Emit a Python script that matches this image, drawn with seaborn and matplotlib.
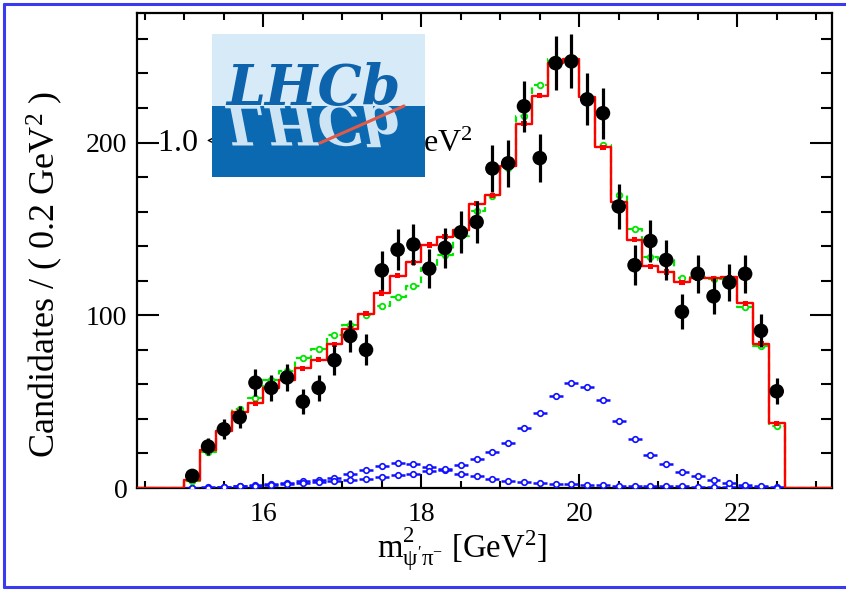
import matplotlib
matplotlib.use("Agg")
import numpy as np
import pandas as pd
import matplotlib.pyplot as plt
import seaborn as sns
from matplotlib.ticker import MultipleLocator, FixedLocator
from matplotlib.patches import Rectangle, PathPatch
from matplotlib.lines import Line2D
from matplotlib.textpath import TextPath
from matplotlib.font_manager import FontProperties
from matplotlib.transforms import Affine2D

# ---------------- data ----------------
bin_centers = [15.1, 15.3, 15.5, 15.7, 15.9, 16.1, 16.3, 16.5, 16.7, 16.9,
               17.1, 17.3, 17.5, 17.7, 17.9, 18.1, 18.3, 18.5, 18.7, 18.9,
               19.1, 19.3, 19.5, 19.7, 19.9, 20.1, 20.3, 20.5, 20.7, 20.9,
               21.1, 21.3, 21.5, 21.7, 21.9, 22.1, 22.3, 22.5]
bin_width = 0.2
x_range = [14.4, 23.2]
y_range = [0, 275]

data_counts = [7, 24, 34, 41, 61, 58, 64, 50, 58, 74,
               88, 80, 126, 138, 141, 127, 139, 148, 154, 185,
               188, 221, 191, 246, 247, 225, 217, 163, 129, 143,
               132, 102, 124, 111, 119, 124, 91, 56]
data_errors = [2.6, 4.9, 5.8, 6.4, 7.8, 7.6, 8.0, 7.1, 7.6, 8.6,
               9.4, 8.9, 11.2, 11.7, 11.9, 11.3, 11.8, 12.2, 12.4, 13.6,
               13.7, 14.9, 13.8, 15.7, 15.7, 15.0, 14.7, 12.8, 11.4, 12.0,
               11.5, 10.1, 11.1, 10.5, 10.9, 11.1, 9.5, 7.5]

fit_total = [4.5, 22, 33, 44, 49, 57.8, 62.6, 69.4, 74.2, 83.3,
             92, 101, 112.9, 122.9, 130.6, 140.7, 145.5, 149.6, 164.5, 169.5,
             186.3, 211, 227.2, 246.2, 248.5, 226.5, 197.3, 165.4, 143.8, 128.3,
             125, 119, 121.5, 121.5, 122.1, 107, 83.5, 37.5]

fit_alt = [4, 21, 33, 46, 52, 62.6, 68, 75.5, 80.4, 88.7,
           94.5, 99.9, 105.5, 110.5, 116.7, 127.4, 135, 145.7, 160.5, 169,
           185, 215.3, 233.2, 248.5, 248, 226, 198.3, 169.5, 150, 133.7,
           132, 121.3, 122, 121, 121, 105, 82, 36]

comp_peak20 = [0, 0.2, 0.5, 0.9, 1.4, 2.0, 2.5, 3.0, 3.5, 4.1,
               4.6, 5.2, 6.6, 7.5, 8.2, 9.7, 10.8, 13.5, 16.8, 20.6,
               26.3, 34.6, 43.3, 53.3, 60.7, 58.7, 51, 39, 28.2, 19.1,
               13.9, 9.5, 7.0, 4.6, 3.1, 1.9, 0.9, 0.2]

comp_peak18 = [0.1, 0.3, 0.6, 1.0, 1.5, 2.2, 3.0, 3.9, 4.8, 6.0,
               8.0, 10.4, 12.9, 14.7, 13.8, 12.2, 10.6, 8.0, 6.8, 5.5,
               4.2, 3.4, 2.8, 2.4, 2.2, 1.8, 1.6, 1.4, 1.3, 1.2,
               1.0, 0.9, 0.8, 0.7, 0.6, 0.5, 0.4, 0.3]

x_ticks = [16, 18, 20, 22]
y_ticks = [0, 100, 200]

# ---------------- style ----------------
sns.set_theme(style="ticks")
plt.rcParams['font.family'] = ['Liberation Serif', 'DejaVu Serif']
plt.rcParams['mathtext.fontset'] = 'custom'
plt.rcParams['mathtext.rm'] = 'Liberation Serif'
plt.rcParams['mathtext.it'] = 'Liberation Serif:italic'
plt.rcParams['mathtext.bf'] = 'Liberation Serif:bold'
plt.rcParams['text.color'] = 'black'
plt.rcParams['axes.labelcolor'] = 'black'
plt.rcParams['xtick.color'] = 'black'
plt.rcParams['ytick.color'] = 'black'

W, H = 846, 591
fig = plt.figure(figsize=(W / 100, H / 100), dpi=100)
fig.patch.set_facecolor('white')
L, R, T, B = 137, 832, 13, 488
ax = fig.add_axes([L / W, 1 - B / H, (R - L) / W, (B - T) / H])
ax.set_facecolor('white')

centers = np.array(bin_centers)
edges_x = np.concatenate([[x_range[0]], centers - bin_width / 2,
                          [centers[-1] + bin_width / 2, x_range[1]]])


def step_y(v):
    return np.concatenate([[0], np.asarray(v, float), [0, 0]])


# blue components
for comp in (comp_peak18, comp_peak20):
    ax.errorbar(centers, comp, xerr=bin_width * 0.44, fmt='o', ms=4,
                mfc='white', mec='#1010ff', mew=1.2, ecolor='#1010ff',
                elinewidth=1.8, capsize=0, zorder=3)

# green dashed curve
sns.lineplot(x=edges_x, y=step_y(fit_alt), drawstyle='steps-post',
             color='#00e600', linewidth=1.6, estimator=None, sort=False,
             ax=ax, zorder=4)
ax.lines[-1].set_dashes([3, 2])
ax.plot(centers, fit_alt, 'o', ms=4, mfc='white', mec='#00e600', mew=1.3,
        zorder=4)

# red total fit
sns.lineplot(x=edges_x, y=step_y(fit_total), drawstyle='steps-post',
             color='#ff0000', linewidth=1.7, estimator=None, sort=False,
             ax=ax, zorder=5)
sns.scatterplot(x=centers, y=fit_total, marker='s', s=14, color='#ff0000',
                edgecolor='none', ax=ax, zorder=5)

# data
ax.errorbar(centers, data_counts, yerr=data_errors, fmt='none',
            ecolor='black', elinewidth=2.3, capsize=0, zorder=6)
sns.scatterplot(x=centers, y=data_counts, s=110, color='black',
                edgecolor='none', ax=ax, zorder=7)

# axes
ax.set_xlim(*x_range)
ax.set_ylim(*y_range)
ax.xaxis.set_major_locator(FixedLocator(x_ticks))
ax.xaxis.set_minor_locator(MultipleLocator(0.5))
ax.yaxis.set_major_locator(FixedLocator(y_ticks))
ax.yaxis.set_minor_locator(MultipleLocator(20))
ax.tick_params(which='both', direction='in', top=True, right=True,
               width=1.5, labelsize=20, colors='black')
ax.tick_params(axis='x', which='major', length=10, pad=10)
ax.tick_params(axis='x', which='minor', length=5)
ax.tick_params(axis='y', which='major', length=16, pad=7)
ax.tick_params(axis='y', which='minor', length=8)
for s in ax.spines.values():
    s.set_linewidth(1.6)
    s.set_color('black')
    s.set_visible(True)

ax.set_xlabel("m$^{2}_{\\mathrm{ψ'π^{-}}}$ [GeV$^{2}$]", fontsize=23.5)
ax.xaxis.set_label_coords(0.468, -0.080)
ax.set_ylabel("Candidates / ( 0.2 GeV$^{2}$ )", fontsize=26)
ax.yaxis.set_label_coords(-0.104, 0.449)

# annotation partly hidden by the logo
ax.text(0.029, 0.7068, "1.0 < m$^{2}_{\\mathrm{Kπ}}$ <", transform=ax.transAxes,
        fontsize=23, ha='left', va='baseline', zorder=8)
ax.text(0.4835, 0.7068, "1.75 GeV$^{2}$", transform=ax.transAxes,
        fontsize=23, ha='right', va='baseline', zorder=8)


# ---------------- LHCb logo ----------------
def fx(px):
    return px / W


def fy(py):
    return 1 - py / H


lx0, lx1, ly0, lmid, ly1 = 212, 425, 34, 106, 177
light = Rectangle((fx(lx0), fy(lmid)), (lx1 - lx0) / W, (lmid - ly0) / H,
                  transform=fig.transFigure, facecolor='#d6eaf7',
                  edgecolor='none', zorder=10)
dark = Rectangle((fx(lx0), fy(ly1)), (lx1 - lx0) / W, (ly1 - lmid) / H,
                 transform=fig.transFigure, facecolor='#0b69b1',
                 edgecolor='none', zorder=10)
fig.add_artist(light)
fig.add_artist(dark)

logo_fs = 40
logo_x, logo_base = 226, 105
fig.text(fx(logo_x), fy(logo_base), "LHCb", family='DejaVu Serif',
         style='italic', weight='bold', fontsize=logo_fs, color='#0d63ac',
         ha='left', va='baseline', zorder=12)
fp = FontProperties(family='DejaVu Serif', style='italic', weight='bold')
tp = TextPath((0, 0), "LHCb", size=logo_fs * 100 / 72, prop=fp)
mirror = PathPatch(tp, transform=Affine2D().scale(1, -1).translate(logo_x, H - logo_base),
                   facecolor='#cde4f4', edgecolor='none', zorder=11)
fig.add_artist(mirror)
mirror.set_clip_path(dark)
fig.add_artist(Line2D([fx(320), fx(404)], [fy(143), fy(106)],
                      transform=fig.transFigure, color='#e05a47', lw=2.2,
                      zorder=13))

# ---------------- blue frame ----------------
frame_col = '#3a3af0'
for xs, ys in [([4, W], [3.5, 3.5]), ([4, 4], [3.5, 587]), ([4, W], [587, 587])]:
    fig.add_artist(Line2D([fx(v) for v in xs], [fy(v) for v in ys],
                          transform=fig.transFigure, color=frame_col, lw=2.2,
                          zorder=20))

fig.savefig("out.png", dpi=100)
